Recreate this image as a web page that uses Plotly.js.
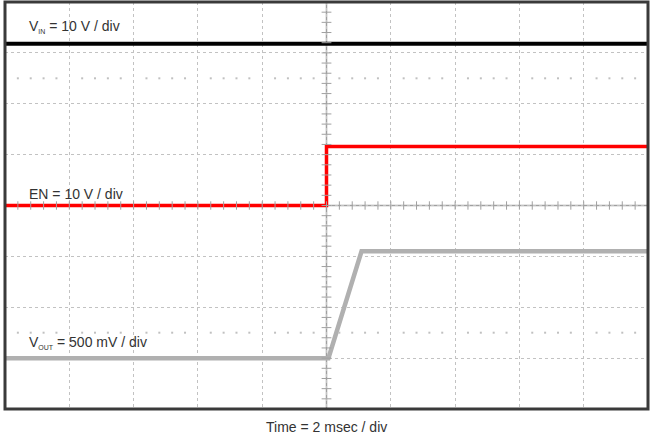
<!DOCTYPE html>
<html><head><meta charset="utf-8">
<script src="https://cdn.plot.ly/plotly-3.0.1.min.js"></script>
<style>html,body{margin:0;padding:0;background:#fff}#chart{width:651px;height:434px}</style>
</head><body><div id="chart"></div>
<script>
// ---- Data (time in ms, trigger at 0 ms; voltages in V) ----
const vinTime = [-10, 10];
const vinVolts = [11.8, 11.8];
const enTime = [-10, 0, 0, 10];
const enVolts = [0, 0, 11.6, 11.6];
const voutTime = [-10, 0.06, 1.09, 10];
const voutVolts = [0, 0, 1.05, 1.05];
const channelLabels = [
  'V<sub><span style="font-size:7px">IN</span></sub> = 10 V / div',
  'EN = 10 V / div',
  'V<sub><span style="font-size:7px">OUT</span></sub> = 500 mV / div'
];
const timeLabel = 'Time = 2 msec / div';

// ---- Scope settings ----
const msPerDiv = 2, divX = 10, divY = 8;
const vinScale = 10, vinGround = 6;
const enScale = 10, enGround = 4;
const voutScale = 0.5, voutGround = 1;
function rangeFor(scale, ground) { return [-ground * scale, (divY - ground) * scale]; }

const xRange = [-divX / 2 * msPerDiv, divX / 2 * msPerDiv];

// ---- Decorations (graticule ticks) in division units on y4 ----
const hTickX = [], hTickY = [];
for (let k = 0; k <= divX * 5; k++) { hTickX.push(xRange[0] + k * msPerDiv / 5); hTickY.push(divY / 2); }
const vTickX = [], vTickY = [];
for (let k = 0; k <= divY * 5; k++) { vTickX.push(0); vTickY.push(k / 5); }
const dotX = [], dotY = [];
[1.5, 6.5].forEach(function (row) {
  for (let k = 0; k <= divX * 5; k++) {
    if (k % 5 === 0) continue;
    dotX.push(xRange[0] + k * msPerDiv / 5); dotY.push(row);
  }
});

const tickColor = '#a0a0a0';
const traces = [
  {x: dotX, y: dotY, yaxis: 'y4', mode: 'markers', marker: {symbol: 'square', size: 2, color: '#c0c0c0'}, hoverinfo: 'skip'},
  {x: hTickX, y: hTickY, yaxis: 'y4', mode: 'markers', marker: {symbol: 'line-ns', size: 6, line: {color: tickColor, width: 1}}, hoverinfo: 'skip'},
  {x: vTickX, y: vTickY, yaxis: 'y4', mode: 'markers', marker: {symbol: 'line-ew', size: 7, line: {color: tickColor, width: 1}}, hoverinfo: 'skip'},
  {x: voutTime, y: voutVolts, yaxis: 'y3', mode: 'lines', line: {color: '#b0b0b0', width: 4.5}, name: 'VOUT'},
  {x: enTime, y: enVolts, yaxis: 'y2', mode: 'lines', line: {color: '#ff0000', width: 3.5}, name: 'EN'},
  {x: vinTime, y: vinVolts, yaxis: 'y', mode: 'lines', line: {color: '#000000', width: 4}, name: 'VIN'},
  {x: [xRange[0] - 0.11, xRange[0] - 0.11, xRange[0] - 0.11], y: [vinGround, enGround, voutGround], yaxis: 'y4',
   mode: 'markers', cliponaxis: false, marker: {symbol: 'triangle-right', size: 5, color: '#000'}, hoverinfo: 'skip'}
];

const gridStyle = {showgrid: true, gridcolor: '#c2c2c2', griddash: 'dot', gridwidth: 1,
  showticklabels: false, ticks: '', zeroline: false, showline: false, fixedrange: true};

const font = {family: 'Liberation Sans, Arial, sans-serif', size: 14, color: '#333'};
const labelY = [0.941, 0.529, 0.163];
const annotations = channelLabels.map(function (t, i) {
  return {text: t, xref: 'paper', yref: 'paper', x: 0.0343, y: labelY[i], xanchor: 'left', yanchor: 'middle',
    showarrow: false, font: font};
});
annotations.push({text: timeLabel, xref: 'paper', yref: 'paper', x: 0.5, y: -0.043, xanchor: 'center', yanchor: 'middle',
  showarrow: false, font: font});

const layout = {
  width: 651, height: 434,
  margin: {l: 5, r: 3, t: 2, b: 25},
  paper_bgcolor: '#fff', plot_bgcolor: '#fff',
  showlegend: false,
  font: font,
  xaxis: Object.assign({range: xRange, dtick: msPerDiv, tick0: 0}, gridStyle),
  yaxis: Object.assign({range: rangeFor(vinScale, vinGround), dtick: vinScale, tick0: 0}, gridStyle),
  yaxis2: {range: rangeFor(enScale, enGround), overlaying: 'y', visible: false, fixedrange: true},
  yaxis3: {range: rangeFor(voutScale, voutGround), overlaying: 'y', visible: false, fixedrange: true},
  yaxis4: {range: [0, divY], overlaying: 'y', visible: false, fixedrange: true},
  shapes: [
    {type: 'line', xref: 'paper', yref: 'paper', x0: 0.5, x1: 0.5, y0: 0, y1: 1, line: {color: tickColor, width: 1.5}, layer: 'below'},
    {type: 'line', xref: 'paper', yref: 'paper', x0: 0, x1: 1, y0: 0.5, y1: 0.5, line: {color: tickColor, width: 1.5}, layer: 'below'},
    {type: 'rect', xref: 'paper', yref: 'paper', x0: 0, x1: 1, y0: 0, y1: 1, line: {color: '#3a3a3a', width: 3}, layer: 'above'}
  ],
  annotations: annotations
};

Plotly.newPlot('chart', traces, layout, {displayModeBar: false, staticPlot: true});
</script>
</body></html>
